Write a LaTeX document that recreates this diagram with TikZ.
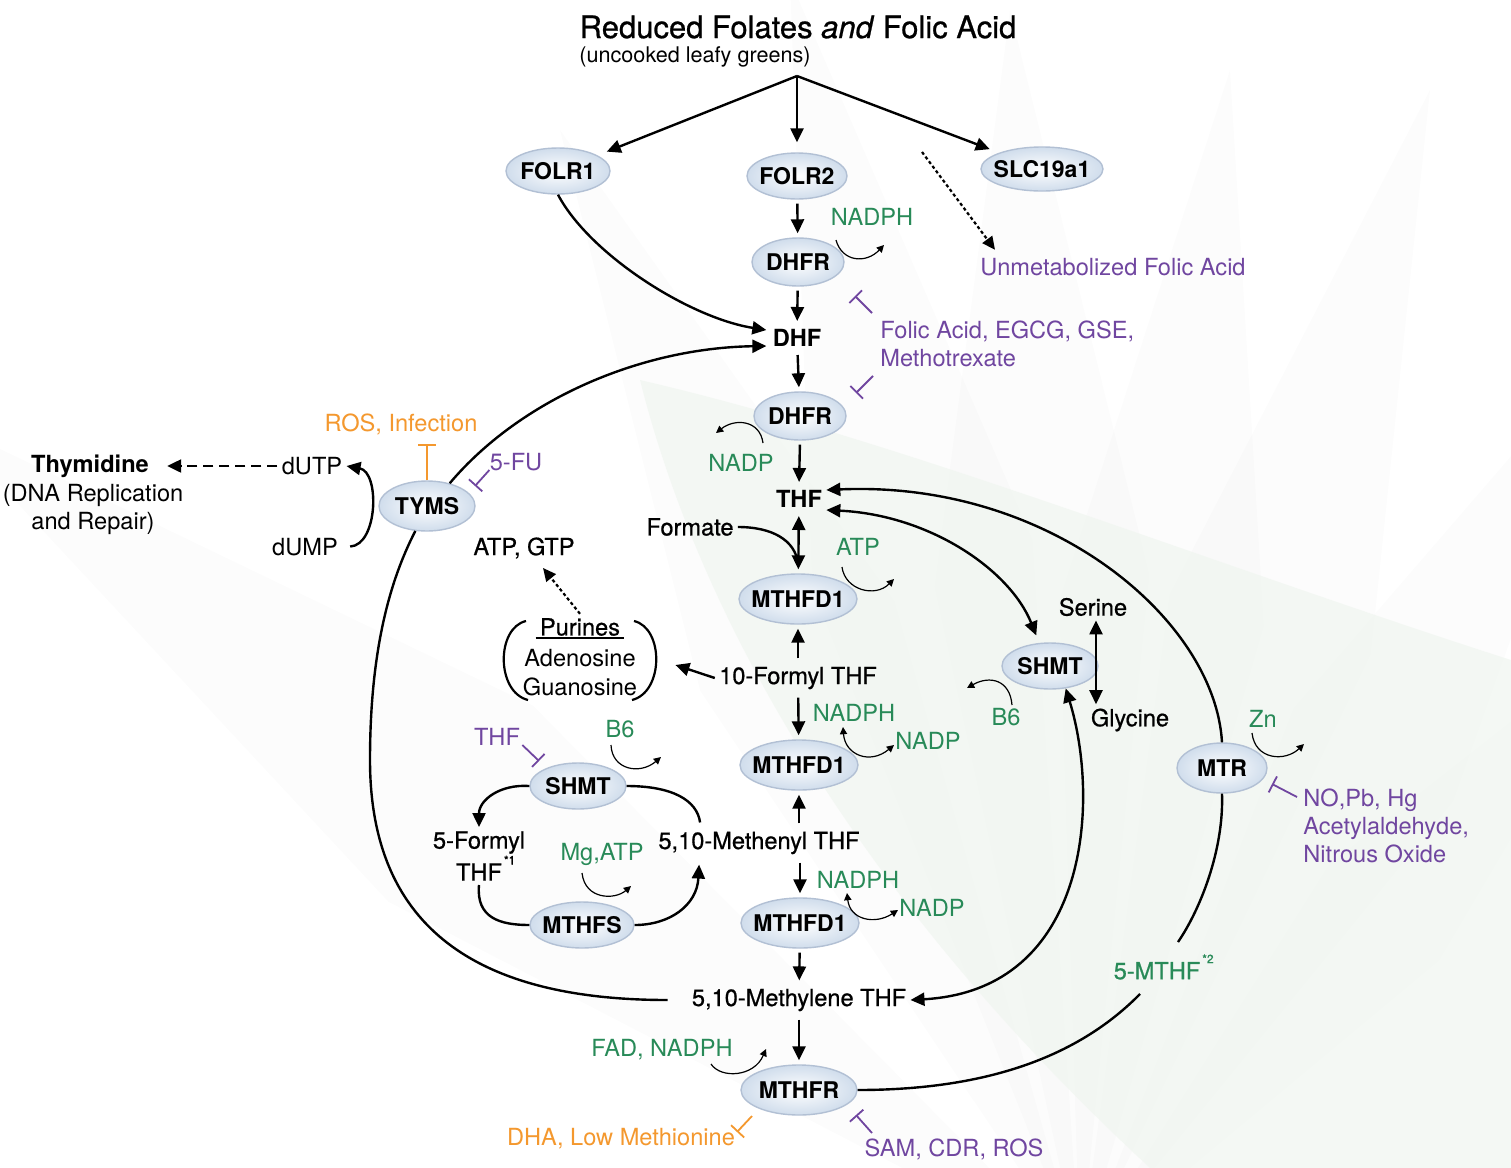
\documentclass[tikz,border=0pt]{standalone}
\usepackage{fontspec}
\setmainfont{TeX Gyre Heros}
\newfontfamily\medfont[FakeBold=0.7]{TeX Gyre Heros}
\usetikzlibrary{shapes.geometric,arrows.meta,calc}

\definecolor{fgreen}{RGB}{40,138,88}
\definecolor{fpurple}{RGB}{112,70,160}
\definecolor{forange}{RGB}{244,152,46}
\definecolor{ellfill}{RGB}{208,221,236}
\definecolor{elledge}{RGB}{178,192,212}
\definecolor{leafgreen}{RGB}{240,246,240}

\newcommand\enzyme[5]{%
  \node[enz, minimum width=#3pt, minimum height=#4pt] (#1) at (#2) {\makebox[0pt]{#5}};}

\tikzset{
  x=0.5pt, y=-0.5pt,
  enz/.style={ellipse, draw=elledge, line width=0.7pt, inner color=white,
    outer color=ellfill, inner sep=0pt,
    font=\bfseries\fontsize{11.5}{13}\selectfont},
  lbl/.style={inner sep=2pt, font=\fontsize{11.8}{14}\selectfont},
  met/.style={inner sep=2pt, font=\medfont\fontsize{11.8}{14}\selectfont},
  bmet/.style={inner sep=2pt, font=\bfseries\fontsize{11.8}{14}\selectfont},
  lblG/.style={lbl, text=fgreen},
  lblP/.style={lbl, text=fpurple},
  lblO/.style={lbl, text=forange},
  wire/.style={line width=1.2pt},
  arr/.style={wire, -{Triangle[length=7pt,width=6.5pt]}},
  darr/.style={wire, {Triangle[length=7pt,width=6.5pt]}-{Triangle[length=7pt,width=6.5pt]}},
  col/.style={arr, shorten <=2pt, shorten >=2pt},
  dcol/.style={darr, shorten <=2pt, shorten >=2pt},
  dotarr/.style={line width=1.1pt, dash pattern=on 1.6pt off 1.3pt,
    -{Triangle[length=6.5pt,width=6pt]}},
  dasharr/.style={line width=1.1pt, dash pattern=on 5pt off 3pt,
    -{Triangle[length=7pt,width=6.5pt]}},
  co/.style={line width=0.6pt, -{Triangle[length=3.6pt,width=3.6pt]}},
  coo/.style={line width=0.6pt, {Triangle[length=3.6pt,width=3.6pt]}-{Triangle[length=3.6pt,width=3.6pt]}},
  inhP/.style={draw=fpurple, line width=0.9pt, -{Bar[width=9pt,line width=0.9pt]}},
  inhO/.style={draw=forange, line width=0.9pt, -{Bar[width=9pt,line width=0.9pt]}},
  bgleaf/.style={fill=black, fill opacity=0.012},
}

\begin{document}
\begin{tikzpicture}
\useasboundingbox (0,0) rectangle (1511,1168);
\fill[white] (0,0) rectangle (1511,1168);

% ---- faint background leaves ----
\begin{scope}
\clip (0,0) rectangle (1511,1168);
\coordinate (O) at (1080,1260);
\foreach \t in {(560,130),(790,-20),(1010,10),(1230,70),(1430,90),(1620,330),(1640,620),(-60,420)}{
  \fill[bgleaf] (O) -- ($(O)!0.55!9:\t$) -- \t -- ($(O)!0.55!-9:\t$) -- cycle;
}
\fill[leafgreen, opacity=0.7] (640,380) .. controls (700,620) and (860,900) .. (1150,1168)
  -- (1511,1168) -- (1511,660) .. controls (1200,560) and (900,440) .. (640,380);
\end{scope}

% ---- title ----
\node[met, font=\medfont\fontsize{15.5}{18}\selectfont] (title) at (798,27)
  {Reduced Folates \textit{and} Folic Acid};
\node[lbl, font=\fontsize{10.8}{13}\selectfont] (sub) at (695,57) {(uncooked leafy greens)};
\coordinate (br) at (797,76);

% ---- enzymes ----
\enzyme{folr1}{558,171}{52}{23}{FOLR1}
\enzyme{folr2}{797,176}{50}{23}{FOLR2}
\enzyme{slc}{1042,169}{61}{22}{SLC19a1}
\enzyme{dhfrA}{798,262}{46}{24}{DHFR}
\enzyme{dhfrB}{800,416}{46}{24}{DHFR}
\enzyme{mthfdA}{798,599}{59}{25}{MTHFD1}
\enzyme{mthfdB}{799,765}{59}{25}{MTHFD1}
\enzyme{mthfdC}{800,923}{59}{25}{MTHFD1}
\enzyme{mthfr}{799,1090}{58}{25}{MTHFR}
\enzyme{shmtR}{1050,666}{48}{23}{SHMT}
\enzyme{mtr}{1222,768}{45}{25}{MTR}
\enzyme{tyms}{427,506}{48}{25}{TYMS}
\enzyme{shmtL}{578,786}{48}{23}{SHMT}
\enzyme{mthfs}{582,925}{52}{23}{MTHFS}

% ---- metabolites ----
\node[bmet] (dhf) at (797,338) {DHF};
\node[bmet] (thf) at (799,499) {THF};
\node[met] (formate) at (690,527) {Formate};
\node[met] (tenf) at (798,678) {10-Formyl THF};
\node[met] (menyl) at (759,843) {5,10-Methenyl THF};
\node[met] (mlene) at (799,1000) {5,10-Methylene THF};
\node[met] (serine) at (1093,607) {Serine};
\node[met] (glycine) at (1130,720) {Glycine};
\node[met] (atpgtp) at (524,548) {ATP, GTP};
\node[lbl] (dutp) at (312,466) {dUTP};
\node[lbl] (dump) at (305,547) {dUMP};
\node[bmet] (thy) at (90,466) {Thymidine};
\node[lbl, align=center] (thysub) at (93,509) {(DNA Replication\\and Repair)};
\node[met, align=center] (fformyl) at (479,856)
  {5-Formyl\\THF\rlap{\raisebox{1.3ex}{\fontsize{6}{6}\selectfont\,*1}}};

% purines group
\node[met, inner sep=1pt] (purT) at (580,627) {Purines};
\node[lbl] (ade) at (580,658) {Adenosine};
\node[lbl] (gua) at (580,687) {Guanosine};
\node[minimum width=80pt, minimum height=44pt, inner sep=0pt] (purbox) at (580,660) {};
\draw[line width=1pt] ($(purT.south west)+(-2,0)$) -- ($(purT.south east)+(2,0)$);
\draw[line width=1.1pt] (526,621) .. controls (496,628) and (496,692) .. (528,700);
\draw[line width=1.1pt] (634,621) .. controls (664,628) and (664,692) .. (632,700);

% ---- cofactor / modifier labels ----
\node[lblG] (nadphA) at (872,217) {NADPH};
\node[lblG] (nadpB) at (741,463) {NADP};
\node[lblG] (atpA) at (858,547) {ATP};
\node[lblG] (nadphD) at (854,713) {NADPH};
\node[lblG] (nadpD) at (928,741) {NADP};
\node[lblG] (nadphE) at (858,880) {NADPH};
\node[lblG] (nadpE) at (932,908) {NADP};
\node[lblG] (b6L) at (620,729) {B6};
\node[lblG] (mgatp) at (602,854) {Mg,ATP};
\node[lblG] (b6R) at (1006,717) {B6};
\node[lblG] (zn) at (1263,719) {Zn};
\node[lblG] (fad) at (662,1050) {FAD, NADPH};
\node[lblG, font=\medfont\fontsize{11.8}{14}\selectfont] (mthf5) at (1157,967)
  {5-MTHF\rlap{\raisebox{1.3ex}{\fontsize{6}{6}\selectfont\,*2}}};

\node[lblP] (ufa) at (1113,267) {Unmetabolized Folic Acid};
\node[lblP, align=left, anchor=west] (folic) at (876,344) {Folic Acid, EGCG, GSE,\\Methotrexate};
\node[lblP] (fu) at (516,462) {5-FU};
\node[lblP] (thfL) at (497,737) {THF};
\node[lblP, align=left, anchor=west] (nopb) at (1299,826) {NO,Pb, Hg\\Acetylaldehyde,\\Nitrous Oxide};
\node[lblP] (sam) at (954,1149) {SAM, CDR, ROS};
\node[lblO] (ros) at (401,424) {ROS, Infection};
\node[lblO] (dha) at (621,1139) {DHA, Low Methionine};

% ---- uptake ----
\draw[arr, shorten >=5pt] (br) -- (folr1);
\draw[arr, shorten >=5pt] (br) -- (folr2);
\draw[arr, shorten >=5pt] (br) -- (slc);
\coordinate (ufaS) at (922,152);
\draw[dotarr] (ufaS) -- ($(ufa.north west)+(19,-4)$);

% ---- main column ----
\draw[col] (folr2) -- (dhfrA);
\draw[col] (dhfrA) -- (dhf);
\draw[col] (dhf) -- (dhfrB);
\draw[col] (dhfrB.south) -- (thf.north);
\draw[dcol] (thf) -- (mthfdA);
\draw[wire] (formate.east) .. controls (772,527) and (795,540) .. ($(mthfdA.north)+(0,-10)$);
\draw[col] (tenf) -- (mthfdA);
\draw[col] (tenf) -- (mthfdB);
\draw[col] (menyl.north -| mthfdB) -- (mthfdB);
\draw[col] (menyl.south -| mthfdC) -- (mthfdC);
\draw[col] (mthfdC) -- (mlene);
\draw[col] (mlene) -- (mthfr);

\draw[arr] (tenf.west) -- ($(purbox.east)+(15,5)$);
\draw[dotarr] ($(purT.north)+(0,-2)$) -- ($(atpgtp.south)+(19,5)$);

% ---- into DHF ----
\draw[arr] (folr1.south) .. controls (590,255) and (690,318) .. ($(dhf.west)+(-2,-8)$);
\draw[arr] (tyms.45) .. controls (520,400) and (640,348) .. ($(dhf.west)+(-2,8)$);

% ---- THF exchanges ----
\draw[arr] (mtr.north) .. controls (1215,620) and (1050,480) .. ($(thf.east)+(0,-9)$);
\draw[darr, shorten >=4pt] ($(thf.east)+(0,11)$) .. controls (930,515) and (1010,570) .. (shmtR.115);
\draw[darr] ($(serine.south)+(3,0)$) -- ($(serine.south |- glycine.north)+(3,0)$);
\draw[darr] (shmtR.-55) .. controls (1100,800) and (1090,990) .. (mlene.east);

% ---- methyl cycle ----
\draw[wire] (mthfr.east) .. controls (990,1090) and (1080,1055) .. ($(mthf5.south)+(-17,10)$);
\draw[wire] ($(mthf5.north)+(21,-8)$) .. controls (1200,910) and (1224,850) .. (mtr.south);

% ---- thymidylate branch ----
\draw[wire, shorten <=10pt] (mlene.west) .. controls (480,1000) and (370,930) .. (370,760)
  .. controls (370,650) and (390,580) .. (tyms.-115);
\draw[arr, shorten <=4pt] (dump.east) .. controls (378,545) and (380,472) .. (dutp.east);
\draw[dasharr, shorten >=7pt] (dutp.west) -- (thy.east);

% ---- 5-formyl THF cycle ----
\draw[arr] (shmtL.west) .. controls (500,784) and (479,800) .. (fformyl.north);
\draw[wire] (shmtL.east) .. controls (672,786) and (697,800) .. ($(menyl.north west)+(46,-5)$);
\draw[wire] (fformyl.south) .. controls (476,918) and (500,925) .. (mthfs.west);
\draw[arr] (mthfs.east) .. controls (670,925) and (697,905) .. ($(menyl.south west)+(45,6)$);

% ---- cofactor arcs ----
\draw[co] ($(nadphA)+(-36,23)$) .. controls +(6,22) and +(-18,19) .. ($(nadphA)+(12,28)$);
\draw[co] ($(nadpB)+(22,-20)$) .. controls +(-3,-23) and +(19,-15) .. ($(nadpB)+(-25,-30)$);
\draw[co] ($(atpA)+(-16,20)$) .. controls +(3,23) and +(-19,19) .. ($(atpA)+(36,32)$);
\draw[coo] ($(nadphD)+(-11,14)$) .. controls +(2,28) and +(-24,20) .. ($(nadphD)+(40,32)$);
\draw[coo] ($(nadphE)+(-11,13)$) .. controls +(3,27) and +(-23,15) .. ($(nadphE)+(40,30)$);
\draw[co] ($(b6L)+(-9,16)$) .. controls +(1,25) and +(-21,18) .. ($(b6L)+(41,28)$);
\draw[co] ($(mgatp)+(-20,19)$) .. controls +(3,27) and +(-16,14) .. ($(mgatp)+(29,32)$);
\draw[co] ($(b6R)+(6,-12)$) .. controls +(-2,-25) and +(23,-13) .. ($(b6R)+(-39,-29)$);
\draw[co] ($(zn)+(-11,14)$) .. controls +(3,27) and +(-19,18) .. ($(zn)+(41,25)$);
\draw[co] ($(fad)+(49,14)$) .. controls +(10,15) and +(-12,28) .. ($(fad)+(104,-1)$);

% ---- inhibitors ----
\draw[inhP] ($(dhfrA)+(74,51)$) -- ($(dhfrA)+(57,34)$);
\draw[inhP] ($(dhfrB)+(73,-40)$) -- ($(dhfrB)+(56,-23)$);
\draw[inhP] ($(fu.west)+(4,8)$) -- ($(tyms)+(48,-20)$);
\draw[inhP] ($(thfL.east)+(-2,8)$) -- ($(shmtL)+(-39,-25)$);
\draw[inhP] ($(mtr)+(75,29)$) -- ($(mtr)+(50,16)$);
\draw[inhP] ($(mthfr)+(73,43)$) -- ($(mthfr)+(57,25)$);
\draw[inhO] (tyms.north) -- ($(tyms.north |- ros.south)+(0,5)$);
\draw[inhO] ($(mthfr)+(-47,26)$) -- ($(mthfr)+(-62,42)$);
\end{tikzpicture}
\end{document}
